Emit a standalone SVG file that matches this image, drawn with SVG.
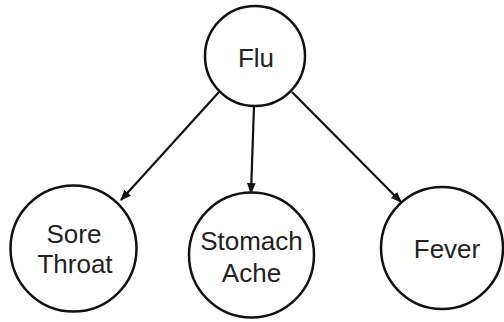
<svg xmlns="http://www.w3.org/2000/svg" width="504" height="322" viewBox="0 0 504 322">
<defs>
<style>
.n{fill:#fff;stroke:#111;stroke-width:2.5}
.t{font-family:"Liberation Sans",Arial,sans-serif;font-size:26px;fill:#222;text-anchor:middle}
.e{stroke:#111;stroke-width:2.2;fill:none;marker-end:url(#ah)}
</style>
<marker id="ah" viewBox="0 0 10 10" refX="9" refY="5" markerWidth="5" markerHeight="5" orient="auto" markerUnits="strokeWidth">
<path d="M0,1 L10,5 L0,9 Z" fill="#111"/>
</marker>
</defs>
<g id="edges">
<line class="e" x1="219" y1="92" x2="121" y2="200"/>
<line class="e" x1="254" y1="106" x2="251" y2="193"/>
<line class="e" x1="292" y1="92" x2="401" y2="202"/>
</g>
<g id="flu"><circle class="n" cx="255" cy="56" r="50"/><text class="t" x="256" y="67">Flu</text></g>
<g id="sore"><circle class="n" cx="73.5" cy="248.5" r="63"/><text class="t" x="74" y="243">Sore</text><text class="t" x="75" y="273">Throat</text></g>
<g id="stomach"><circle class="n" cx="251.5" cy="255" r="62.5"/><text class="t" x="251.5" y="250">Stomach</text><text class="t" x="251.5" y="282">Ache</text></g>
<g id="fever"><circle class="n" cx="442" cy="248" r="61"/><text class="t" x="447" y="258">Fever</text></g>
</svg>
